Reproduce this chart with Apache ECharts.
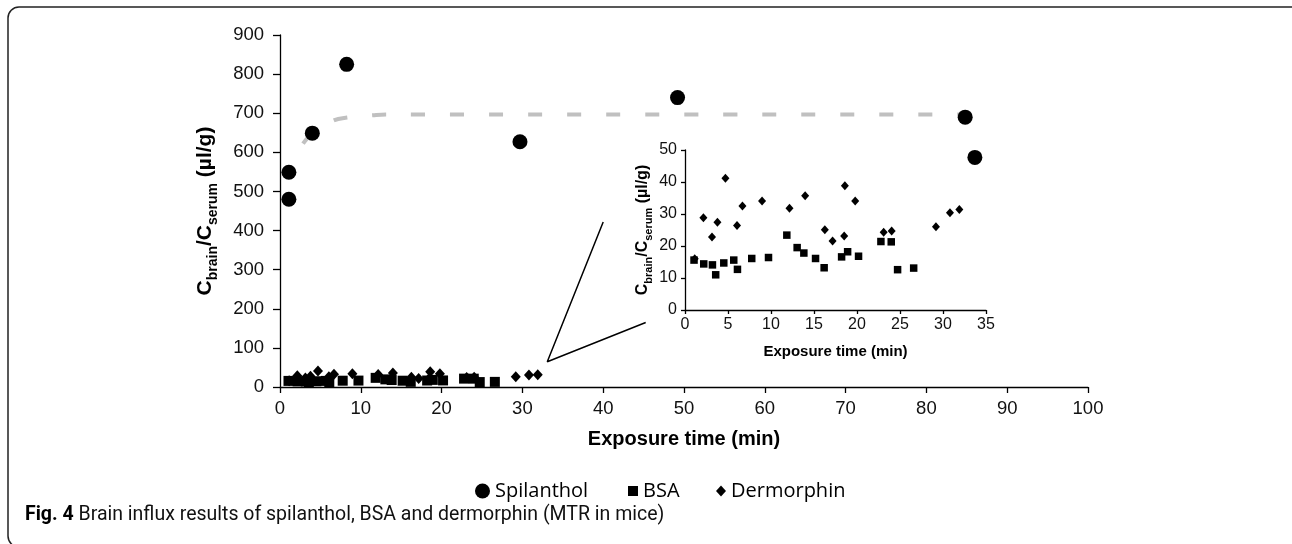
<!DOCTYPE html>
<html>
<head>
<meta charset="utf-8">
<script src="https://cdn.jsdelivr.net/npm/echarts@6/dist/echarts.min.js"></script>
<style>
  html, body { margin: 0; padding: 0; background: #fff; }
  #chart { width: 1292px; height: 544px; }
</style>
</head>
<body>
<div id="chart"></div>
<script>
// values
const spilanthol_x = [1.1, 1.1, 4.0, 8.25, 29.7, 49.2, 84.8, 86.0];
const spilanthol_y = [549, 480, 649, 825, 627, 740, 690, 587];

const bsa_x = [1.05, 2.18, 3.19, 3.57, 4.51, 5.67, 6.10, 7.76, 9.71, 11.84, 13.04, 13.82, 15.18, 16.18, 18.21, 18.91, 20.18, 22.78, 23.98, 24.72, 26.59];
const bsa_y = [15.6, 14.4, 14.1, 11.0, 14.7, 15.6, 12.7, 16.1, 16.4, 23.4, 19.5, 17.8, 16.1, 13.2, 16.6, 18.2, 16.8, 21.4, 21.3, 12.6, 13.1];

const derm_x = [1.13, 2.14, 3.14, 3.77, 4.70, 6.05, 6.68, 8.96, 12.15, 13.97, 16.26, 17.16, 18.59, 18.51, 19.79, 23.10, 24.03, 29.18, 30.81, 31.90];
const derm_y = [16.0, 28.8, 22.8, 27.4, 41.2, 26.4, 32.5, 34.1, 31.8, 35.7, 25.1, 21.6, 38.8, 23.1, 34.1, 24.3, 24.7, 26.0, 30.4, 31.4];

// fitted plateau curve (dashed grey)
const fit_x = [2.85, 3.96, 6.56, 8.29, 11.5, 13.1, 85.8];
const fit_y = [622, 648, 681, 689, 695, 697, 697];

// the two zoom-out lines pointing at the inset
const zoom_x = [40.0, 33.08, 45.26];
const zoom_y = [421.7, 64.5, 165];

const mainXTicks = {min: 0, max: 100, interval: 10};
const mainYTicks = {min: 0, max: 900, interval: 100};
const insetXTicks = {min: 0, max: 35, interval: 5};
const insetYTicks = {min: 0, max: 50, interval: 10};

function zip(xs, ys) {
  return xs.map((x, i) => [x, ys[i]]);
}

const FONT = 'Liberation Sans, Arial, sans-serif';
const LEG_FONT = 'Open Sans, sans-serif';

function axisStyle(labelSize, labelMargin, tickLen) {
  return {
    axisLine: {show: true, onZero: false, lineStyle: {color: '#000', width: 1.3}},
    axisTick: {show: true, inside: false, length: tickLen, lineStyle: {color: '#000', width: 1.3}},
    axisLabel: {color: '#111', fontSize: labelSize, fontFamily: FONT, margin: labelMargin},
    splitLine: {show: false}
  };
}

function yName(big, small, lh) {
  return {
    rich: {
      b: {fontSize: big, fontWeight: 'bold', fontFamily: FONT, color: '#000', lineHeight: lh, verticalAlign: 'middle'},
      s: {fontSize: small, fontWeight: 'bold', fontFamily: FONT, color: '#000', lineHeight: lh, verticalAlign: 'bottom'}
    }
  };
}

const yNameText = '{b|C}{s|brain}{b|/C}{s|serum}{b| (µl/g)}';
const black = {color: '#000', opacity: 1};

var chart = echarts.init(document.getElementById('chart'), null, {renderer: 'canvas'});

let opts = {
  animation: false,
  backgroundColor: '#fff',
  grid: [
    {left: 280, right: 204, top: 35, bottom: 157, outerBoundsMode: 'none'},
    {left: 685, right: 306, top: 150, bottom: 234, outerBoundsMode: 'none'}
  ],
  xAxis: [
    Object.assign({
      type: 'value', gridIndex: 0,
      min: mainXTicks.min, max: mainXTicks.max, interval: mainXTicks.interval,
      name: 'Exposure time (min)', nameLocation: 'middle', nameGap: 42,
      nameTextStyle: {fontSize: 20, fontWeight: 'bold', fontFamily: FONT, color: '#000'}
    }, axisStyle(18.5, 12, 6)),
    Object.assign({
      type: 'value', gridIndex: 1,
      min: insetXTicks.min, max: insetXTicks.max, interval: insetXTicks.interval,
      name: 'Exposure time (min)', nameLocation: 'middle', nameGap: 34,
      nameTextStyle: {fontSize: 15, fontWeight: 'bold', fontFamily: FONT, color: '#000'}
    }, axisStyle(16, 7, 4))
  ],
  yAxis: [
    Object.assign({
      type: 'value', gridIndex: 0,
      min: mainYTicks.min, max: mainYTicks.max, interval: mainYTicks.interval,
      name: yNameText, nameLocation: 'middle', nameGap: 60,
      nameTextStyle: yName(21, 14, 30)
    }, axisStyle(18.5, 16, 7)),
    Object.assign({
      type: 'value', gridIndex: 1,
      min: insetYTicks.min, max: insetYTicks.max, interval: insetYTicks.interval,
      name: yNameText, nameLocation: 'middle', nameGap: 31,
      nameTextStyle: yName(16, 11, 22)
    }, axisStyle(16, 8, 4))
  ],
  legend: [
    {data: [{name: 'Spilanthol', icon: 'circle'}], left: 470, top: 476, itemWidth: 15, itemHeight: 15, itemGap: 0,
     itemStyle: {opacity: 1}, textStyle: {fontSize: 20, fontFamily: LEG_FONT, color: '#000'}},
    {data: [{name: 'BSA', icon: 'rect'}], left: 623, top: 476, itemWidth: 10, itemHeight: 10,
     itemStyle: {opacity: 1}, textStyle: {fontSize: 20, fontFamily: LEG_FONT, color: '#000'}},
    {data: [{name: 'Dermorphin', icon: 'diamond'}], left: 711, top: 476, itemWidth: 10, itemHeight: 11,
     itemStyle: {opacity: 1}, textStyle: {fontSize: 20, fontFamily: LEG_FONT, color: '#000'}}
  ],
  title: {
    text: '{b|Fig. 4} Brain influx results of spilanthol, BSA and dermorphin (MTR in mice)',
    left: 20, top: 500,
    textStyle: {
      rich: {
        b: {fontSize: 19.5, fontWeight: 'bold', fontFamily: 'Roboto, sans-serif', color: '#000'}
      },
      fontSize: 19.5, fontWeight: 'normal', fontFamily: 'Roboto, sans-serif', color: '#111'
    }
  },
  graphic: [
    {type: 'rect', silent: true, z: -1,
     shape: {x: 8, y: 7, width: 1300, height: 540, r: 11},
     style: {fill: 'none', stroke: '#222', lineWidth: 1.5}}
  ],
  series: [
    {name: 'fit', type: 'line', xAxisIndex: 0, yAxisIndex: 0, data: zip(fit_x, fit_y),
     smooth: 0.4, symbol: 'none', z: 1,
     lineStyle: {color: '#c0c0c0', width: 4, type: [14, 25]}},
    {name: 'zoom', type: 'line', xAxisIndex: 0, yAxisIndex: 0, data: zip(zoom_x, zoom_y),
     symbol: 'none', z: 1, lineStyle: {color: '#000', width: 1.5}},
    {name: 'Dermorphin', type: 'scatter', xAxisIndex: 0, yAxisIndex: 0, data: zip(derm_x, derm_y),
     symbol: 'diamond', symbolSize: [10, 11], itemStyle: black, z: 3},
    {name: 'BSA', type: 'scatter', xAxisIndex: 0, yAxisIndex: 0, data: zip(bsa_x, bsa_y),
     symbol: 'rect', symbolSize: 10, itemStyle: black, z: 3},
    {name: 'Spilanthol', type: 'scatter', xAxisIndex: 0, yAxisIndex: 0, data: zip(spilanthol_x, spilanthol_y),
     symbol: 'circle', symbolSize: 15, itemStyle: black, z: 4},
    {name: 'Dermorphin', type: 'scatter', xAxisIndex: 1, yAxisIndex: 1, data: zip(derm_x, derm_y),
     symbol: 'diamond', symbolSize: [8, 9], itemStyle: black, z: 3},
    {name: 'BSA', type: 'scatter', xAxisIndex: 1, yAxisIndex: 1, data: zip(bsa_x, bsa_y),
     symbol: 'rect', symbolSize: 7.5, itemStyle: black, z: 3}
  ]
};

chart.setOption(opts);
</script>
</body>
</html>
